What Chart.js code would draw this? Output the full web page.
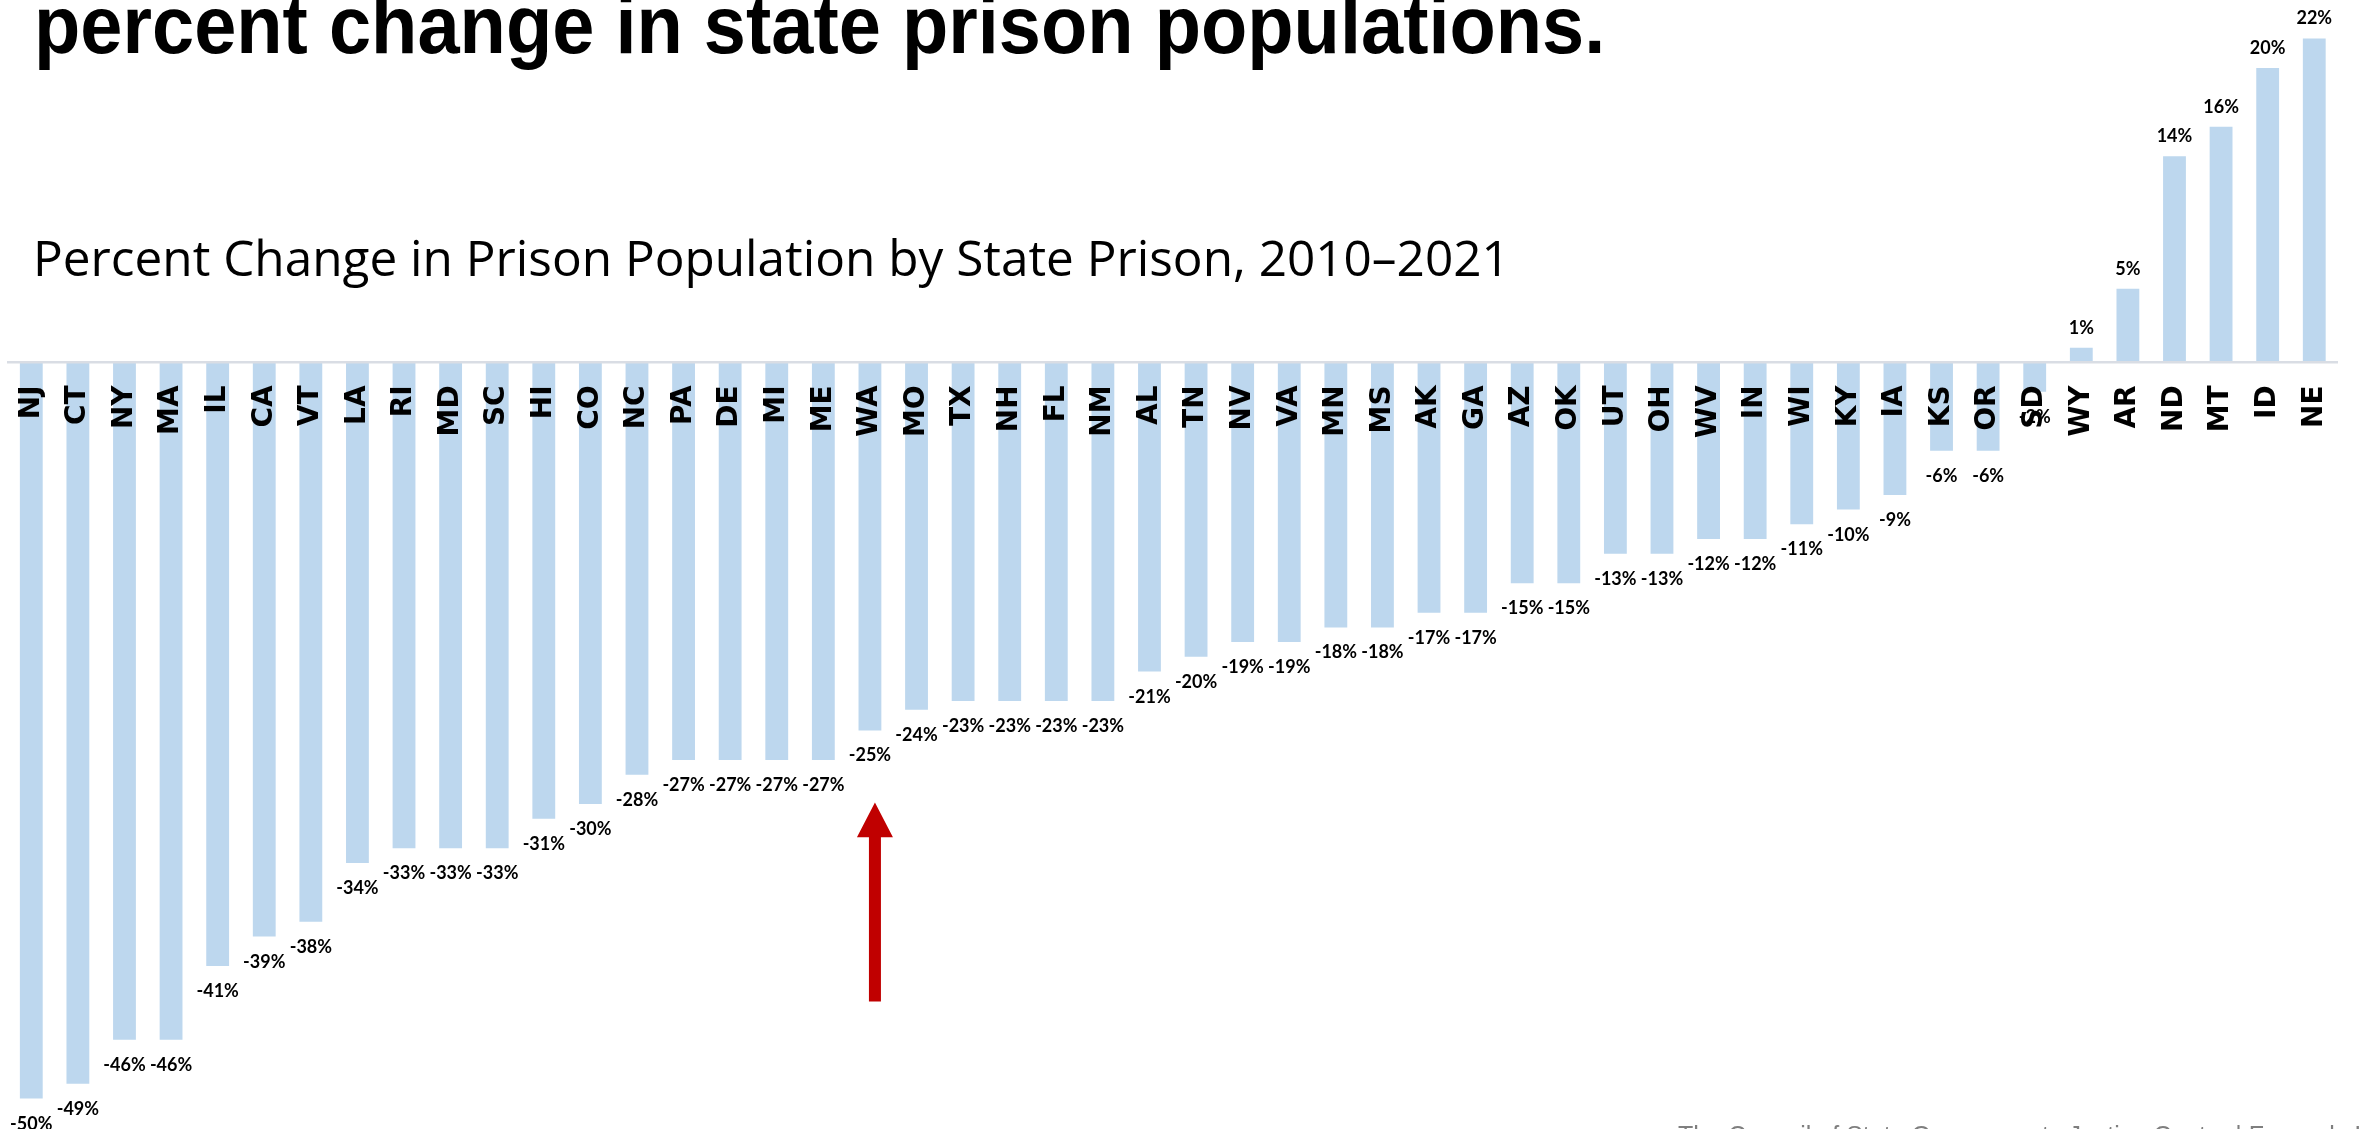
<!DOCTYPE html>
<html>
<head>
<meta charset="utf-8">
<script src="https://cdn.jsdelivr.net/npm/chart.js@4/dist/chart.umd.min.js"></script>
<style>
  html, body { margin: 0; padding: 0; background: #fff; overflow: hidden; }
  #wrap { position: relative; width: 2371px; height: 1129px; overflow: hidden; }
  #wrap canvas { position: absolute; left: 0; top: 0; }
  .txt { position: absolute; white-space: nowrap; line-height: 1; font-family: 'Liberation Sans', Arial, sans-serif; color: #000; z-index: 2; transform-origin: 0 0; }
  #title { left: 34px; top: -15px; font-size: 81px; font-weight: bold; transform: scaleX(0.936); }
  #subtitle { left: 33px; top: 233px; font-size: 49.5px; font-family: 'Open Sans', sans-serif; }
  #source { left: 1678px; top: 1123px; font-size: 25px; color: #7f7f7f; }
</style>
</head>
<body>
<div id="wrap">
  <div class="txt" id="title">percent change in state prison populations.</div>
  <div class="txt" id="subtitle">Percent Change in Prison Population by State Prison, 2010–2021</div>
  <div class="txt" id="source">The Council of State Governments Justice Center | Formerly Incarcerated</div>
  <canvas id="chart" width="2371" height="1129"></canvas>
</div>
<script>
// states, sorted from largest decline to largest increase
const states = ['NJ', 'CT', 'NY', 'MA', 'IL', 'CA', 'VT', 'LA', 'RI', 'MD',
  'SC', 'HI', 'CO', 'NC', 'PA', 'DE', 'MI', 'ME', 'WA', 'MO',
  'TX', 'NH', 'FL', 'NM', 'AL', 'TN', 'NV', 'VA', 'MN', 'MS',
  'AK', 'GA', 'AZ', 'OK', 'UT', 'OH', 'WV', 'IN', 'WI', 'KY',
  'IA', 'KS', 'OR', 'SD', 'WY', 'AR', 'ND', 'MT', 'ID', 'NE']

// percent change 2010-2021
const pctChange = [-50, -49, -46, -46, -41, -39, -38, -34, -33, -33,
  -33, -31, -30, -28, -27, -27, -27, -27, -25, -23.6,
  -23, -23, -23, -23, -21, -20, -19, -19, -18, -18,
  -17, -17, -15, -15, -13, -13, -12, -12, -11, -10,
  -9, -6, -6, -2, 1, 5, 14, 16, 20, 22]

const yRange = [-52, 24]

// red arrow pointing at one state's bar (tip / head base / tail in axis units)
const arrowState = 'WA'
const arrowSpan = [-29.9, -32.25, -43.4]

const barLabels = {
  id: 'barLabels',
  afterDatasetsDraw (chart) {
    const ctx = chart.ctx
    const meta = chart.getDatasetMeta(0)
    ctx.save()
    ctx.font = 'bold 18px Lato, "Open Sans", sans-serif'
    ctx.fillStyle = '#000'
    ctx.textAlign = 'center'
    ctx.textBaseline = 'alphabetic'
    meta.data.forEach((bar, i) => {
      const v = pctChange[i]
      const text = Math.round(v) + '%'
      const y = v < 0 ? bar.y + 31 : bar.y - 14
      ctx.fillText(text, bar.x, y)
    })
    ctx.restore()
  }
}

const arrow = {
  id: 'arrow',
  afterDraw (chart) {
    const ctx = chart.ctx
    const xs = chart.scales.x
    const ys = chart.scales.y
    const cx = xs.getPixelForValue(states.indexOf(arrowState)) + 5
    const tip = ys.getPixelForValue(arrowSpan[0])
    const base = ys.getPixelForValue(arrowSpan[1])
    const tail = ys.getPixelForValue(arrowSpan[2])
    ctx.save()
    ctx.fillStyle = '#c00000'
    ctx.beginPath()
    ctx.moveTo(cx, tip)
    ctx.lineTo(cx + 18, base)
    ctx.lineTo(cx + 6, base)
    ctx.lineTo(cx + 6, tail)
    ctx.lineTo(cx - 6, tail)
    ctx.lineTo(cx - 6, base)
    ctx.lineTo(cx - 18, base)
    ctx.closePath()
    ctx.fill()
    ctx.restore()
  }
}

const ctx = document.getElementById('chart').getContext('2d')
const myChart = new Chart(ctx, {
  type: 'bar',
  data: {
    labels: states,
    datasets: [{
      label: 'Percent change',
      data: pctChange,
      backgroundColor: '#bdd7ee',
      categoryPercentage: 1,
      barPercentage: 0.49
    }]
  },
  options: {
    responsive: false,
    animation: false,
    layout: { padding: { top: 9, bottom: 1, left: 8, right: 14 } },
    plugins: {
      legend: { display: false },
      tooltip: { enabled: false }
    },
    scales: {
      x: {
        position: { y: 0 },
        afterFit: (scale) => { scale.height = 0 },
        grid: { display: false, drawTicks: false },
        border: { display: true, color: '#d9dde4', width: 2.5, z: 1 },
        ticks: {
          z: 2,
          autoSkip: false,
          minRotation: 90,
          maxRotation: 90,
          padding: 23,
          color: '#000',
          font: { family: '"DejaVu Sans"', weight: 'bold', size: 28 }
        }
      },
      y: {
        display: false,
        min: yRange[0],
        max: yRange[1]
      }
    }
  },
  plugins: [barLabels, arrow]
})
</script>
</body>
</html>
